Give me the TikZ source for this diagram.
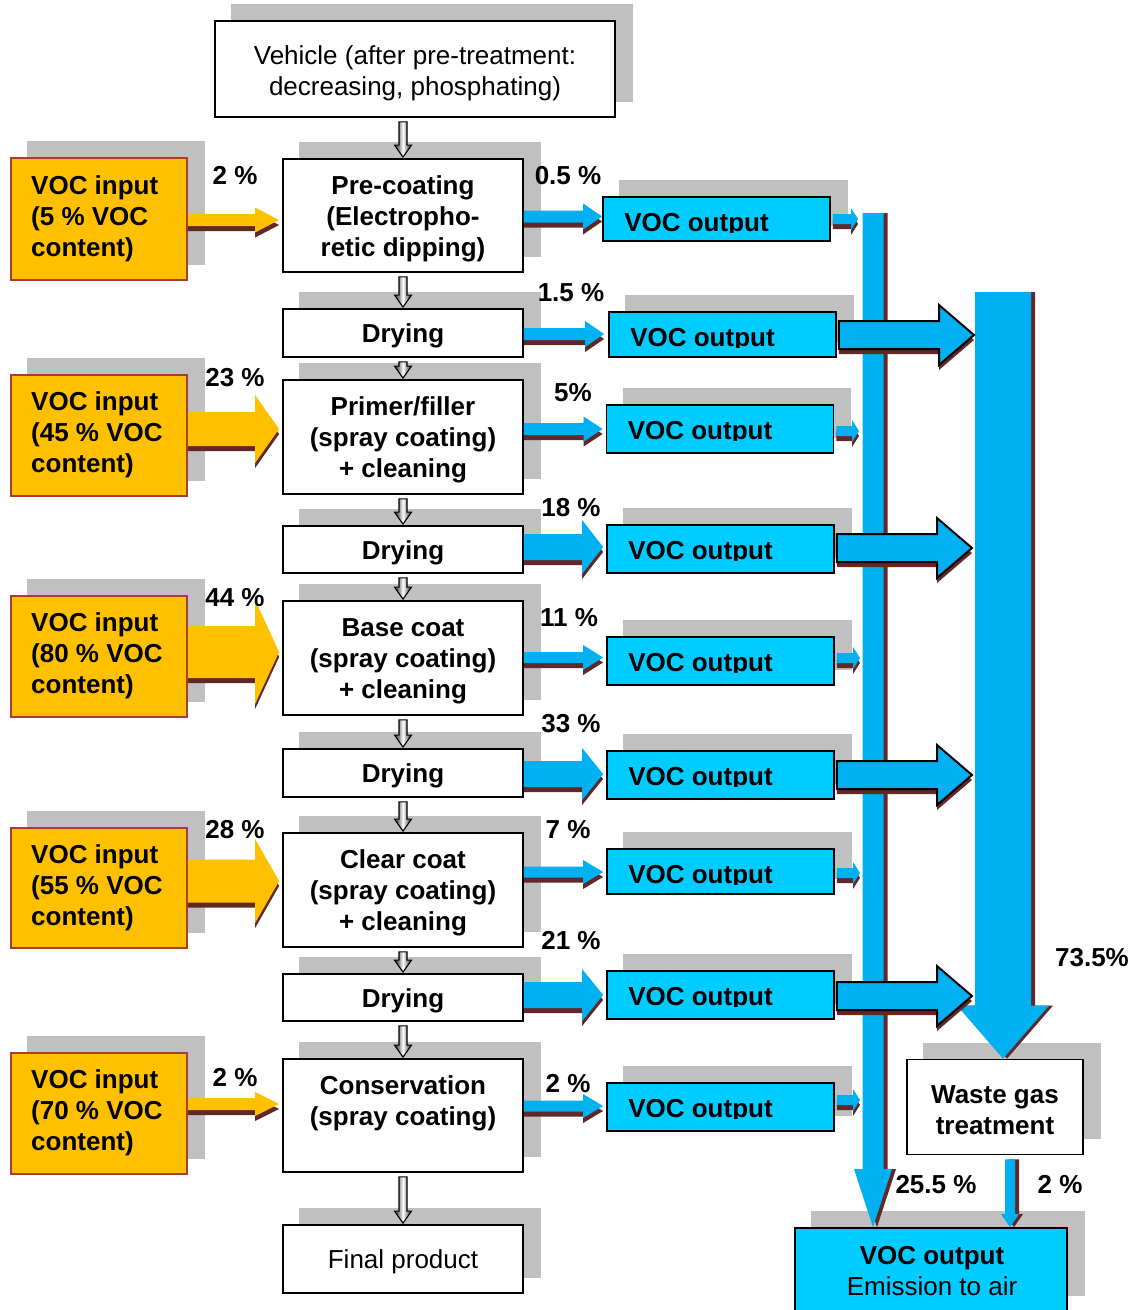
\documentclass[tikz,border=0pt]{standalone}
\usepackage{fontspec}
\setmainfont{Liberation Sans}
\usetikzlibrary{calc}
\definecolor{shgray}{RGB}{192,192,192}
\definecolor{inorange}{RGB}{255,192,0}
\definecolor{inborder}{RGB}{170,60,50}
\definecolor{outcyan}{RGB}{0,204,255}
\definecolor{flowblue}{RGB}{0,176,240}
\definecolor{shbrown}{RGB}{96,40,40}
\pgfdeclarelayer{bg}
\pgfdeclarelayer{mid}
\pgfsetlayers{bg,mid,main}
% horizontal block arrow: #1 opts, #2 from, #3 to, #4 y, #5 shaft half, #6 head half, #7 head length
\newcommand\hblock[7]{%
  \path[#1] let \p1=#2, \p2=#3 in
    ({\x1},{-#4pt+#5pt}) -- ({\x2-#7pt},{-#4pt+#5pt}) -- ({\x2-#7pt},{-#4pt+#6pt}) --
    ({\x2},{-#4pt}) -- ({\x2-#7pt},{-#4pt-#6pt}) -- ({\x2-#7pt},{-#4pt-#5pt}) --
    ({\x1},{-#4pt-#5pt}) -- cycle;}
% vertical block arrow: #1 opts, #2 from, #3 to, #4 x, #5 shaft half, #6 head half, #7 head length
\newcommand\vblock[7]{%
  \path[#1] let \p1=#2, \p2=#3 in
    ({#4pt-#5pt},{\y1}) -- ({#4pt-#5pt},{\y2+#7pt}) -- ({#4pt-#6pt},{\y2+#7pt}) --
    ({#4pt},{\y2}) -- ({#4pt+#6pt},{\y2+#7pt}) -- ({#4pt+#5pt},{\y2+#7pt}) --
    ({#4pt+#5pt},{\y1}) -- cycle;}
\newcommand\hflow[7]{%
  \hblock{fill=shbrown,xshift=3pt,yshift=-5pt}{#2}{#3}{#4}{#5}{#6}{#7}%
  \hblock{#1}{#2}{#3}{#4}{#5}{#6}{#7}}
\newcommand\stepflow[2]{%
  \path[stepshade] let \p1=#1, \p2=#2 in
    ({\x1-4pt},{\y1-4pt}) -- ({\x1-4pt},{\y2+13pt}) -- ({\x1-8.5pt},{\y2+13pt}) --
    ({\x1},{\y2+1pt}) -- ({\x1+8.5pt},{\y2+13pt}) -- ({\x1+4pt},{\y2+13pt}) --
    ({\x1+4pt},{\y1-4pt}) -- cycle;}
\newcommand\outtext[1]{%
  \begin{scope}
    \clip ($(#1.north west)+(2,2)$) rectangle ($(#1.north east)+(-2,36.5)$);
    \node[pct, anchor=base west] (#1txt) at ($(#1.north west)+(22,35)$) {VOC output};
  \end{scope}}
\begin{document}
\begin{tikzpicture}[x=1pt,y=-1pt,
  pct/.style={font=\bfseries\fontsize{26}{31}\selectfont, inner sep=0pt},
  procbox/.style={draw=black, line width=1.8pt, fill=white, inner sep=0pt,
                  minimum width=240pt},
  ptext/.style={inner sep=0pt, align=center, font=\bfseries\fontsize{26}{31}\selectfont},
  rtext/.style={inner sep=0pt, align=center, font=\fontsize{26}{31}\selectfont},
  inbox/.style={draw=inborder, line width=1.8pt, fill=inorange, inner sep=0pt,
                minimum width=176pt},
  intext/.style={anchor=west, align=left, inner sep=0pt, font=\bfseries\fontsize{26}{31}\selectfont},
  outbox/.style={draw=black, line width=1.8pt, fill=outcyan, inner sep=0pt, minimum width=227pt},
  yflow/.style={fill=inorange},
  bflow/.style={fill=flowblue},
  bigflow/.style={fill=flowblue, draw=black, line width=2pt},
  stepshade/.style={draw=black, line width=1.1pt, left color=black!88, right color=black!88, middle color=white},
]
\useasboundingbox (0,0) rectangle (1136,1310);

% ---------- process chain ----------
\node[procbox, minimum width=400pt, minimum height=96pt] (veh) at (415,69) {};
\node[procbox, minimum height=113pt] (pre) at (403,215.5) {};
\node[procbox, minimum height=48pt] (dry1) at (403,333) {};
\node[procbox, minimum height=114pt] (prim) at (403,437) {};
\node[procbox, minimum height=47pt] (dry2) at (403,549.5) {};
\node[procbox, minimum height=114pt] (base) at (403,658) {};
\node[procbox, minimum height=48pt] (dry3) at (403,773) {};
\node[procbox, minimum height=114pt] (clear) at (403,890) {};
\node[procbox, minimum height=47pt] (dry4) at (403,997.5) {};
\node[procbox, minimum height=113pt] (cons) at (403,1115.5) {};
\node[procbox, minimum height=68pt] (fin) at (403,1259) {};

\node[rtext] (veht) at ($(veh)+(0,4)$) {Vehicle (after pre-treatment:\\decreasing, phosphating)};
\node[ptext] (pret) at ($(pre)+(0,3)$) {Pre-coating\\(Electropho-\\retic dipping)};
\node[ptext] (dry1t) at ($(dry1)+(0,3)$) {Drying};
\node[ptext] (primt) at ($(prim)+(0,3)$) {Primer/filler\\(spray coating)\\+ cleaning};
\node[ptext] (dry2t) at ($(dry2)+(0,3)$) {Drying};
\node[ptext] (baset) at ($(base)+(0,3)$) {Base coat\\(spray coating)\\+ cleaning};
\node[ptext] (dry3t) at ($(dry3)+(0,3)$) {Drying};
\node[ptext] (cleart) at ($(clear)+(0,3)$) {Clear coat\\(spray coating)\\+ cleaning};
\node[ptext] (dry4t) at ($(dry4)+(0,3)$) {Drying};
\node[ptext] (const) at ($(cons)+(0,-12)$) {Conservation\\(spray coating)};
\node[rtext] (fint) at ($(fin)+(0,3)$) {Final product};

% ---------- VOC inputs ----------
\node[inbox, minimum height=122pt] (in1) at (99,219) {};
\node[inbox, minimum height=121pt] (in2) at (99,435.5) {};
\node[inbox, minimum height=121pt] (in3) at (99,656.5) {};
\node[inbox, minimum height=120pt] (in4) at (99,888) {};
\node[inbox, minimum height=121pt] (in5) at (99,1113.5) {};
\node[intext] (in1t) at (31,218.5) {VOC input\\(5 \% VOC\\content)};
\node[intext] (in2t) at (31,434.5) {VOC input\\(45 \% VOC\\content)};
\node[intext] (in3t) at (31,655.5) {VOC input\\(80 \% VOC\\content)};
\node[intext] (in4t) at (31,887.5) {VOC input\\(55 \% VOC\\content)};
\node[intext] (in5t) at (31,1112.5) {VOC input\\(70 \% VOC\\content)};

% ---------- VOC outputs ----------
\node[outbox, minimum height=44pt] (out1) at (716.5,219) {};
\node[outbox, minimum height=45pt] (out2) at (722.5,334.5) {};
\node[outbox, minimum height=48pt] (out3) at (720,429) {};
\node[outbox, minimum height=48pt] (out4) at (720.5,549) {};
\node[outbox, minimum height=48pt] (out5) at (720.5,661) {};
\node[outbox, minimum height=48pt] (out6) at (720.5,775) {};
\node[outbox, minimum height=45pt] (out7) at (720.5,871.5) {};
\node[outbox, minimum height=48pt] (out8) at (720.5,995) {};
\node[outbox, minimum height=48pt] (out9) at (720.5,1107) {};
\foreach \n in {out1,out2,out3,out4,out5,out6,out7,out8,out9} {\outtext{\n}}

\node[procbox, minimum width=176pt, minimum height=95pt] (waste) at (995,1107) {};
\node[ptext] (wastet) at ($(waste)+(0,3)$) {Waste gas\\treatment};
\node[outbox, minimum width=272pt, minimum height=83pt] (emit) at (931,1269.5) {};
\node[rtext] (emitt) at (932,1271)
  {\textbf{VOC output}\\Emission to air};

\coordinate (bartop) at (873,213);
\coordinate (rbtop) at (1003,292);

% ---------- shadows ----------
\begin{pgfonlayer}{bg}
\foreach \n in {veh,pre,dry1,prim,dry2,base,dry3,clear,dry4,cons,fin,
                in1,in2,in3,in4,in5,out1,out2,out3,out4,out5,out6,out7,out8,out9,waste,emit}
  \fill[shgray] ($(\n.south west)+(17,-16)$) rectangle ($(\n.north east)+(17,-16)$);
\end{pgfonlayer}

% ---------- collecting bars ----------
\begin{pgfonlayer}{mid}
\vblock{fill=shbrown,xshift=4pt,yshift=-5pt}{(bartop)}{(emit.north)}{873}{10.5}{19}{58}
\vblock{fill=flowblue}{(bartop)}{(emit.north)}{873}{10.5}{19}{58}
\vblock{fill=shbrown,xshift=4pt,yshift=-5pt}{(rbtop)}{(waste.north)}{1003}{28}{46}{53}
\vblock{fill=flowblue}{(rbtop)}{(waste.north)}{1003}{28}{46}{53}
\end{pgfonlayer}

% ---------- step arrows ----------
\stepflow{(veh.south -| pre.north)}{(pre.north)}
\stepflow{(pre.south)}{(dry1.north)}
\stepflow{(dry1.south)}{(prim.north)}
\stepflow{(prim.south)}{(dry2.north)}
\stepflow{(dry2.south)}{(base.north)}
\stepflow{(base.south)}{(dry3.north)}
\stepflow{(dry3.south)}{(clear.north)}
\stepflow{(clear.south)}{(dry4.north)}
\stepflow{(dry4.south)}{(cons.north)}
\stepflow{(cons.south)}{(fin.north)}

% ---------- input arrows ----------
\hflow{yflow}{(in1.east)}{($(pre.west)+(-3,0)$)}{220}{6}{12.5}{24}
\hflow{yflow}{(in2.east)}{($(prim.west)+(-3,0)$)}{429}{17}{34}{24}
\hflow{yflow}{(in3.east)}{($(base.west)+(-3,0)$)}{652}{26}{52}{24}
\hflow{yflow}{(in4.east)}{($(clear.west)+(-3,0)$)}{881}{21.5}{42}{24}
\hflow{yflow}{(in5.east)}{($(cons.west)+(-3,0)$)}{1104}{6}{12}{24}

% ---------- output arrows ----------
\hflow{bflow}{(pre.east)}{(out1.west)}{216.5}{6}{13}{19}
\hflow{bflow}{(dry1.east)}{($(out2.west)+(-4,0)$)}{334}{6}{13}{19}
\hflow{bflow}{(prim.east)}{($(out3.west)+(-3,0)$)}{429}{6}{12.5}{19}
\hflow{bflow}{(dry2.east)}{($(out4.west)+(-3,0)$)}{547}{13}{27}{21}
\hflow{bflow}{(base.east)}{($(out5.west)+(-3,0)$)}{657.5}{5.5}{12.5}{20}
\hflow{bflow}{(dry3.east)}{($(out6.west)+(-3,0)$)}{774}{13}{26}{21}
\hflow{bflow}{(clear.east)}{($(out7.west)+(-3,0)$)}{872}{5.5}{12}{20}
\hflow{bflow}{(dry4.east)}{($(out8.west)+(-3,0)$)}{995}{13}{26}{21}
\hflow{bflow}{(cons.east)}{($(out9.west)+(-3,0)$)}{1106}{5.5}{12}{20}

% ---------- to collecting bars ----------
\hflow{bflow}{($(out1.east)+(2,0)$)}{($(bartop)+(-15,0)$)}{219}{5}{11}{7}
\hflow{bflow}{($(out3.east)+(2,0)$)}{($(bartop)+(-14,0)$)}{431}{5}{11}{7}
\hflow{bflow}{($(out5.east)+(2,0)$)}{($(bartop)+(-13,0)$)}{658}{5}{11}{7}
\hflow{bflow}{($(out7.east)+(2,0)$)}{($(bartop)+(-13,0)$)}{873}{5}{11}{7}
\hflow{bflow}{($(out9.east)+(2,0)$)}{($(bartop)+(-13,0)$)}{1100}{5}{11}{7}
\hflow{bigflow}{($(out2.east)+(2,0)$)}{($(rbtop)+(-29,0)$)}{335}{14}{30}{35}
\hflow{bigflow}{($(out4.east)+(2,0)$)}{($(rbtop)+(-31,0)$)}{548}{14}{30}{35}
\hflow{bigflow}{($(out6.east)+(2,0)$)}{($(rbtop)+(-31,0)$)}{775}{14}{30}{35}
\hflow{bigflow}{($(out8.east)+(2,0)$)}{($(rbtop)+(-31,0)$)}{996}{14}{30}{35}

% waste gas -> emission
\vblock{fill=shbrown,xshift=4pt,yshift=-3pt}{($(waste.south)+(15,4)$)}{($(emit.north)+(79,0)$)}{1010}{5}{9}{13}
\vblock{fill=flowblue}{($(waste.south)+(15,4)$)}{($(emit.north)+(79,0)$)}{1010}{5}{9}{13}

% ---------- percentages ----------
\node[pct] (l1) at (235,176) {2 \%};
\node[pct] (l2) at (568,176) {0.5 \%};
\node[pct] (l3) at (571,293) {1.5 \%};
\node[pct] (l4) at (235,378) {23 \%};
\node[pct] (l5) at (573,393) {5\%};
\node[pct] (l6) at (571,508) {18 \%};
\node[pct] (l7) at (235,598) {44 \%};
\node[pct] (l8) at (569,618) {11 \%};
\node[pct] (l9) at (571,724) {33 \%};
\node[pct] (l10) at (235,830) {28 \%};
\node[pct] (l11) at (568,830) {7 \%};
\node[pct] (l12) at (571,941) {21 \%};
\node[pct] (l13) at (235,1078) {2 \%};
\node[pct] (l14) at (568,1084) {2 \%};
\node[pct] (l15) at (1092,958) {73.5\%};
\node[pct] (l16) at (936,1185) {25.5 \%};
\node[pct] (l17) at (1060,1185) {2 \%};
\end{tikzpicture}
\end{document}
